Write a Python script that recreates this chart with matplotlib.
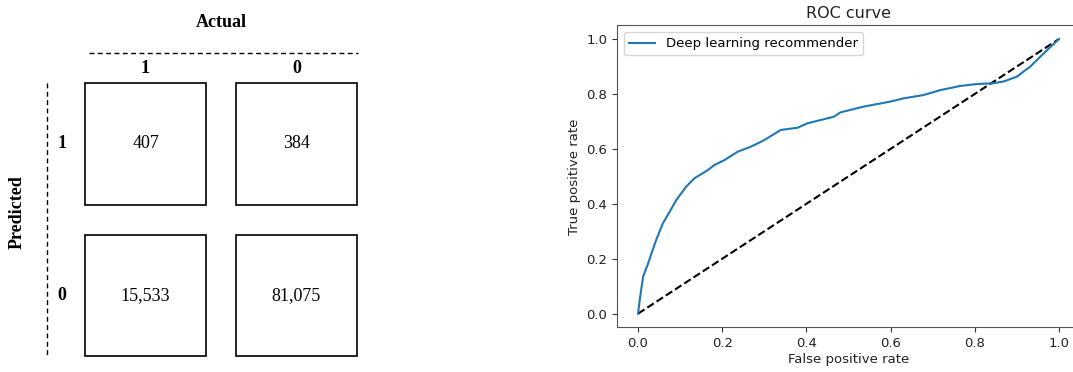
import matplotlib
matplotlib.use("Agg")
import matplotlib.pyplot as plt
from matplotlib.patches import Rectangle

# ---------------- data ----------------
cm_col_labels = ["1", "0"]          # Actual
cm_row_labels = ["1", "0"]          # Predicted
cm_values = [["407", "384"],
             ["15,533", "81,075"]]

fpr = [0.0, 0.004, 0.012, 0.024, 0.032, 0.043, 0.059, 0.075, 0.091, 0.114,
       0.134, 0.166, 0.181, 0.205, 0.237, 0.268, 0.300, 0.339, 0.379, 0.402,
       0.465, 0.481, 0.536, 0.599, 0.631, 0.678, 0.718, 0.765, 0.804, 0.844,
       0.870, 0.900, 0.932, 0.948, 0.972, 1.0]
tpr = [0.0, 0.05, 0.135, 0.183, 0.22, 0.268, 0.329, 0.371, 0.414, 0.462,
       0.493, 0.523, 0.541, 0.559, 0.590, 0.608, 0.632, 0.669, 0.677, 0.693,
       0.717, 0.733, 0.754, 0.772, 0.784, 0.796, 0.814, 0.829, 0.836, 0.839,
       0.846, 0.863, 0.900, 0.924, 0.960, 1.0]
chance = [0.0, 1.0]

# ---------------- figure ----------------
W, H = 1073, 372
fig = plt.figure(figsize=(W / 100, H / 100), dpi=100)

# ---- confusion matrix panel ----
ax = fig.add_axes([0, 0, 380 / W, 1])
ax.set_xlim(-0.9636, 1.553)
ax.set_ylim(1.505, -0.950)
ax.axis("off")

serif = ["Liberation Serif", "DejaVu Serif"]
box = 0.8
for r in range(2):
    for c in range(2):
        ax.add_patch(Rectangle((c - box / 2, r - box / 2), box, box,
                               fill=False, edgecolor="black", linewidth=1.2))
        ax.text(c, r, cm_values[r][c], ha="center", va="center",
                fontsize=13, family=serif)

for c, lab in enumerate(cm_col_labels):
    ax.text(c, -0.50, lab, ha="center", va="center", fontsize=13,
            fontweight="bold", family=serif)
for r, lab in enumerate(cm_row_labels):
    ax.text(-0.553, r, lab, ha="center", va="center", fontsize=13,
            fontweight="bold", family=serif)

ax.text(0.5, -0.80, "Actual", ha="center", va="center", fontsize=13,
        fontweight="bold", family=serif)
ax.text(-0.851, 0.45, "Predicted", ha="center", va="center", fontsize=13,
        fontweight="bold", family=serif, rotation=90)

ax.plot([-0.374, 1.407], [-0.60, -0.60], color="black", linewidth=1.0,
        linestyle=(0, (3.5, 2.5)))
ax.plot([-0.652, -0.652], [-0.40, 1.40], color="black", linewidth=1.0,
        linestyle=(0, (3.5, 2.5)))

# ---- ROC panel ----
left, right = 617, 1080
bottom, top = 327.4, 25.3
ax2 = fig.add_axes([left / W, (H - bottom) / H, (right - left) / W, (bottom - top) / H])
ax2.plot(chance, chance, "k--", linewidth=1.5)
ax2.plot(fpr, tpr, color="#1f77b4", linewidth=1.5, label="Deep learning recommender")
ax2.set_xlim(-0.05, 1.05)
ax2.set_ylim(-0.05, 1.05)
ax2.set_xticks([0, 0.2, 0.4, 0.6, 0.8, 1.0])
ax2.set_yticks([0, 0.2, 0.4, 0.6, 0.8, 1.0])
ax2.tick_params(labelsize=9.5, colors="#333333", labelcolor="#222222")
for s in ax2.spines.values():
    s.set_color("#555555")
ax2.set_xlabel("False positive rate", fontsize=9.5, labelpad=2, color="#222222")
ax2.set_ylabel("True positive rate", fontsize=9.5, labelpad=4, color="#222222")
ax2.set_title("ROC curve", fontsize=11.5, pad=5, color="#222222")
ax2.legend(loc="upper left", fontsize=9.5)

fig.savefig("out.png", dpi=100)
